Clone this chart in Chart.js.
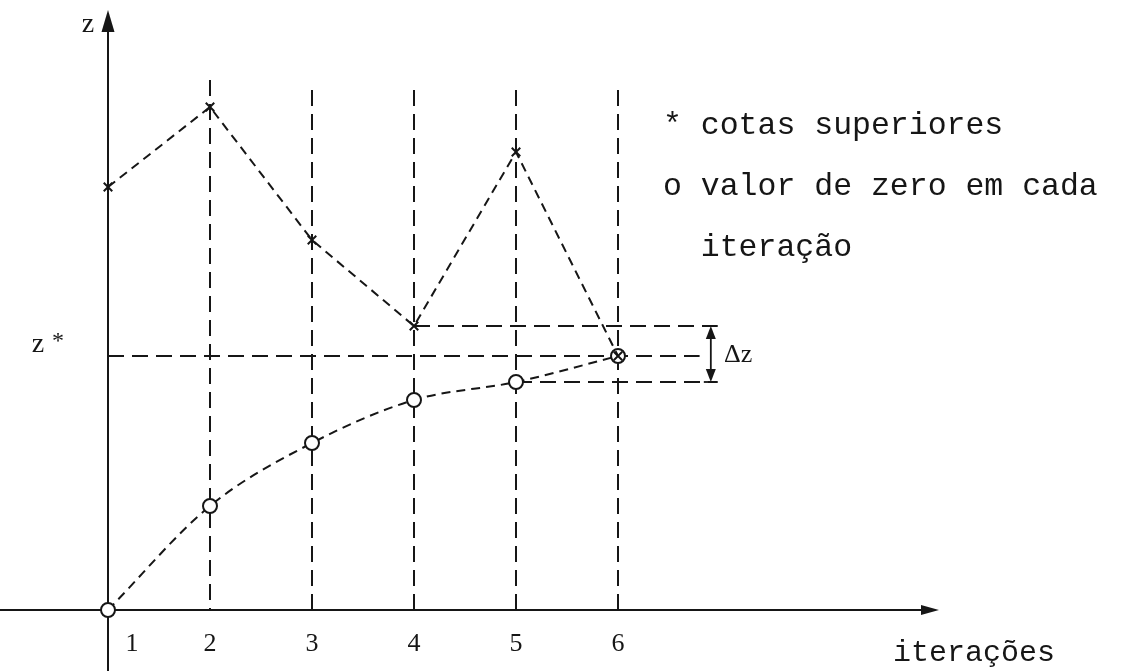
<!DOCTYPE html>
<html>
<head>
<meta charset="utf-8">
<script src="https://cdn.jsdelivr.net/npm/chart.js@4"></script>
<style>
    html, body { margin: 0; padding: 0; background: #fff; }
    canvas { display: block; }
</style>
</head>
<body>
<canvas id="boundsChart" width="1122" height="671"></canvas>
<script>
// iterations along the horizontal axis
const iterations = [1, 2, 3, 4, 5, 6];
const tickLabels = ['1', '2', '3', '4', '5', '6'];

// upper bounds (x marks) and the zero value found at each iteration (circles)
const upperBounds = [84.6, 100.6, 74, 56.8, 91.6, 50.8];
const zeroValues = [0, 20.8, 33.4, 42, 45.6, 50.8];

// optimum and the gap still open after iteration 5
const zStar = 50.8;
const bestUpper = upperBounds[3];
const bestLower = zeroValues[4];

const legendLines = ['* cotas superiores', 'o valor de zero em cada', '  iteração'];

const ink = '#161616';
const monoFont = '"Liberation Mono", "DejaVu Sans Mono", monospace';
const serifFont = '"Liberation Serif", "DejaVu Serif", serif';

function seg(ctx, ax, ay, bx, by) {
    ctx.beginPath();
    ctx.moveTo(ax, ay);
    ctx.lineTo(bx, by);
    ctx.stroke();
}

function head(ctx, tx, ty, dx, dy, len, half) {
    // filled arrow head pointing along (dx, dy)
    const bx = tx - dx * len, by = ty - dy * len;
    ctx.beginPath();
    ctx.moveTo(tx, ty);
    ctx.lineTo(bx - dy * half, by + dx * half);
    ctx.lineTo(bx + dy * half, by - dx * half);
    ctx.closePath();
    ctx.fill();
}

const diagramPlugin = {
    id: 'diagram',
    beforeDatasetsDraw(chart) {
        const ctx = chart.ctx;
        const x = chart.scales.x, y = chart.scales.y;
        const x0 = x.getPixelForValue(iterations[0]);
        const y0 = y.getPixelForValue(0);
        const gapEnd = x.getPixelForValue(6.97);

        ctx.save();
        ctx.strokeStyle = ink;
        ctx.fillStyle = ink;
        ctx.lineWidth = 2;

        // vertical guides for each iteration
        ctx.setLineDash([16, 8]);
        iterations.slice(1).forEach(it => {
            const px = x.getPixelForValue(it);
            seg(ctx, px, y.getPixelForValue(it === 2 ? 106 : 104), px, y0);
        });

        // z*, best upper bound and best zero value
        seg(ctx, x0, y.getPixelForValue(zStar), x.getPixelForValue(6.8), y.getPixelForValue(zStar));
        seg(ctx, x.getPixelForValue(4), y.getPixelForValue(bestUpper), gapEnd, y.getPixelForValue(bestUpper));
        seg(ctx, x.getPixelForValue(5), y.getPixelForValue(bestLower), gapEnd, y.getPixelForValue(bestLower));

        // axes
        ctx.setLineDash([]);
        seg(ctx, x0, chart.height, x0, 28);
        head(ctx, x0, 10, 0, -1, 22, 6.5);
        seg(ctx, 0, y0, 922, y0);
        head(ctx, 939, y0, 1, 0, 18, 5);

        // Δz double arrow
        const ax = x.getPixelForValue(6.91);
        const ya = y.getPixelForValue(bestUpper), yb = y.getPixelForValue(bestLower);
        ctx.lineWidth = 1.8;
        seg(ctx, ax, ya + 8, ax, yb - 8);
        head(ctx, ax, ya, 0, -1, 13, 5);
        head(ctx, ax, yb, 0, 1, 13, 5);
        seg(ctx, ax - 7, ya, ax + 7, ya);
        seg(ctx, ax - 7, yb, ax + 7, yb);
        ctx.restore();
    },
    afterDraw(chart) {
        const ctx = chart.ctx;
        const x = chart.scales.x, y = chart.scales.y;
        ctx.save();
        ctx.fillStyle = ink;
        ctx.textBaseline = 'alphabetic';

        // axis names
        ctx.font = '28px ' + serifFont;
        ctx.textAlign = 'center';
        ctx.fillText('z', 88, 32);
        ctx.fillText('z', 38, 352);
        ctx.font = '24px ' + serifFont;
        ctx.fillText('*', 58, 348);
        ctx.font = '30px ' + monoFont;
        ctx.textAlign = 'left';
        ctx.fillText('iterações', 893, 661);

        // iteration numbers
        ctx.font = '26px ' + serifFont;
        ctx.textAlign = 'center';
        tickLabels.forEach((t, i) => {
            const shift = i === 0 ? 24 : 0;
            ctx.fillText(t, x.getPixelForValue(iterations[i]) + shift, 651);
        });

        // Δz label
        ctx.font = '26px ' + serifFont;
        ctx.textAlign = 'left';
        const midGap = y.getPixelForValue((bestUpper + bestLower) / 2);
        ctx.fillText('Δz', x.getPixelForValue(7.04), midGap + 8);

        // key
        ctx.font = '31.5px ' + monoFont;
        legendLines.forEach((t, i) => ctx.fillText(t, 663, 134 + i * 61));
        ctx.restore();
    }
};

new Chart(document.getElementById('boundsChart'), {
    type: 'scatter',
    data: {
        datasets: [{
            label: 'cotas superiores',
            data: iterations.map((it, i) => ({ x: it, y: upperBounds[i] })),
            showLine: true,
            borderColor: ink,
            borderWidth: 2,
            borderDash: [9, 6],
            tension: 0,
            pointStyle: 'crossRot',
            pointRadius: 6,
            pointBorderWidth: 2,
            pointBorderColor: ink,
            clip: false
        }, {
            label: 'valor de zero',
            data: iterations.map((it, i) => ({ x: it, y: zeroValues[i] })),
            showLine: true,
            borderColor: ink,
            borderWidth: 2,
            borderDash: [9, 6],
            cubicInterpolationMode: 'monotone',
            pointStyle: 'circle',
            pointRadius: 7,
            pointBorderWidth: 2,
            pointBorderColor: ink,
            pointBackgroundColor: '#ffffff',
            clip: false
        }]
    },
    options: {
        responsive: false,
        animation: false,
        devicePixelRatio: 1,
        layout: { padding: { left: 108, right: 504, top: 10, bottom: 61 } },
        scales: {
            x: { type: 'linear', min: 1, max: 6, display: false },
            y: { type: 'linear', min: 0, max: 120, display: false }
        },
        plugins: {
            legend: { display: false },
            tooltip: { enabled: false }
        }
    },
    plugins: [diagramPlugin]
});
</script>
</body>
</html>
